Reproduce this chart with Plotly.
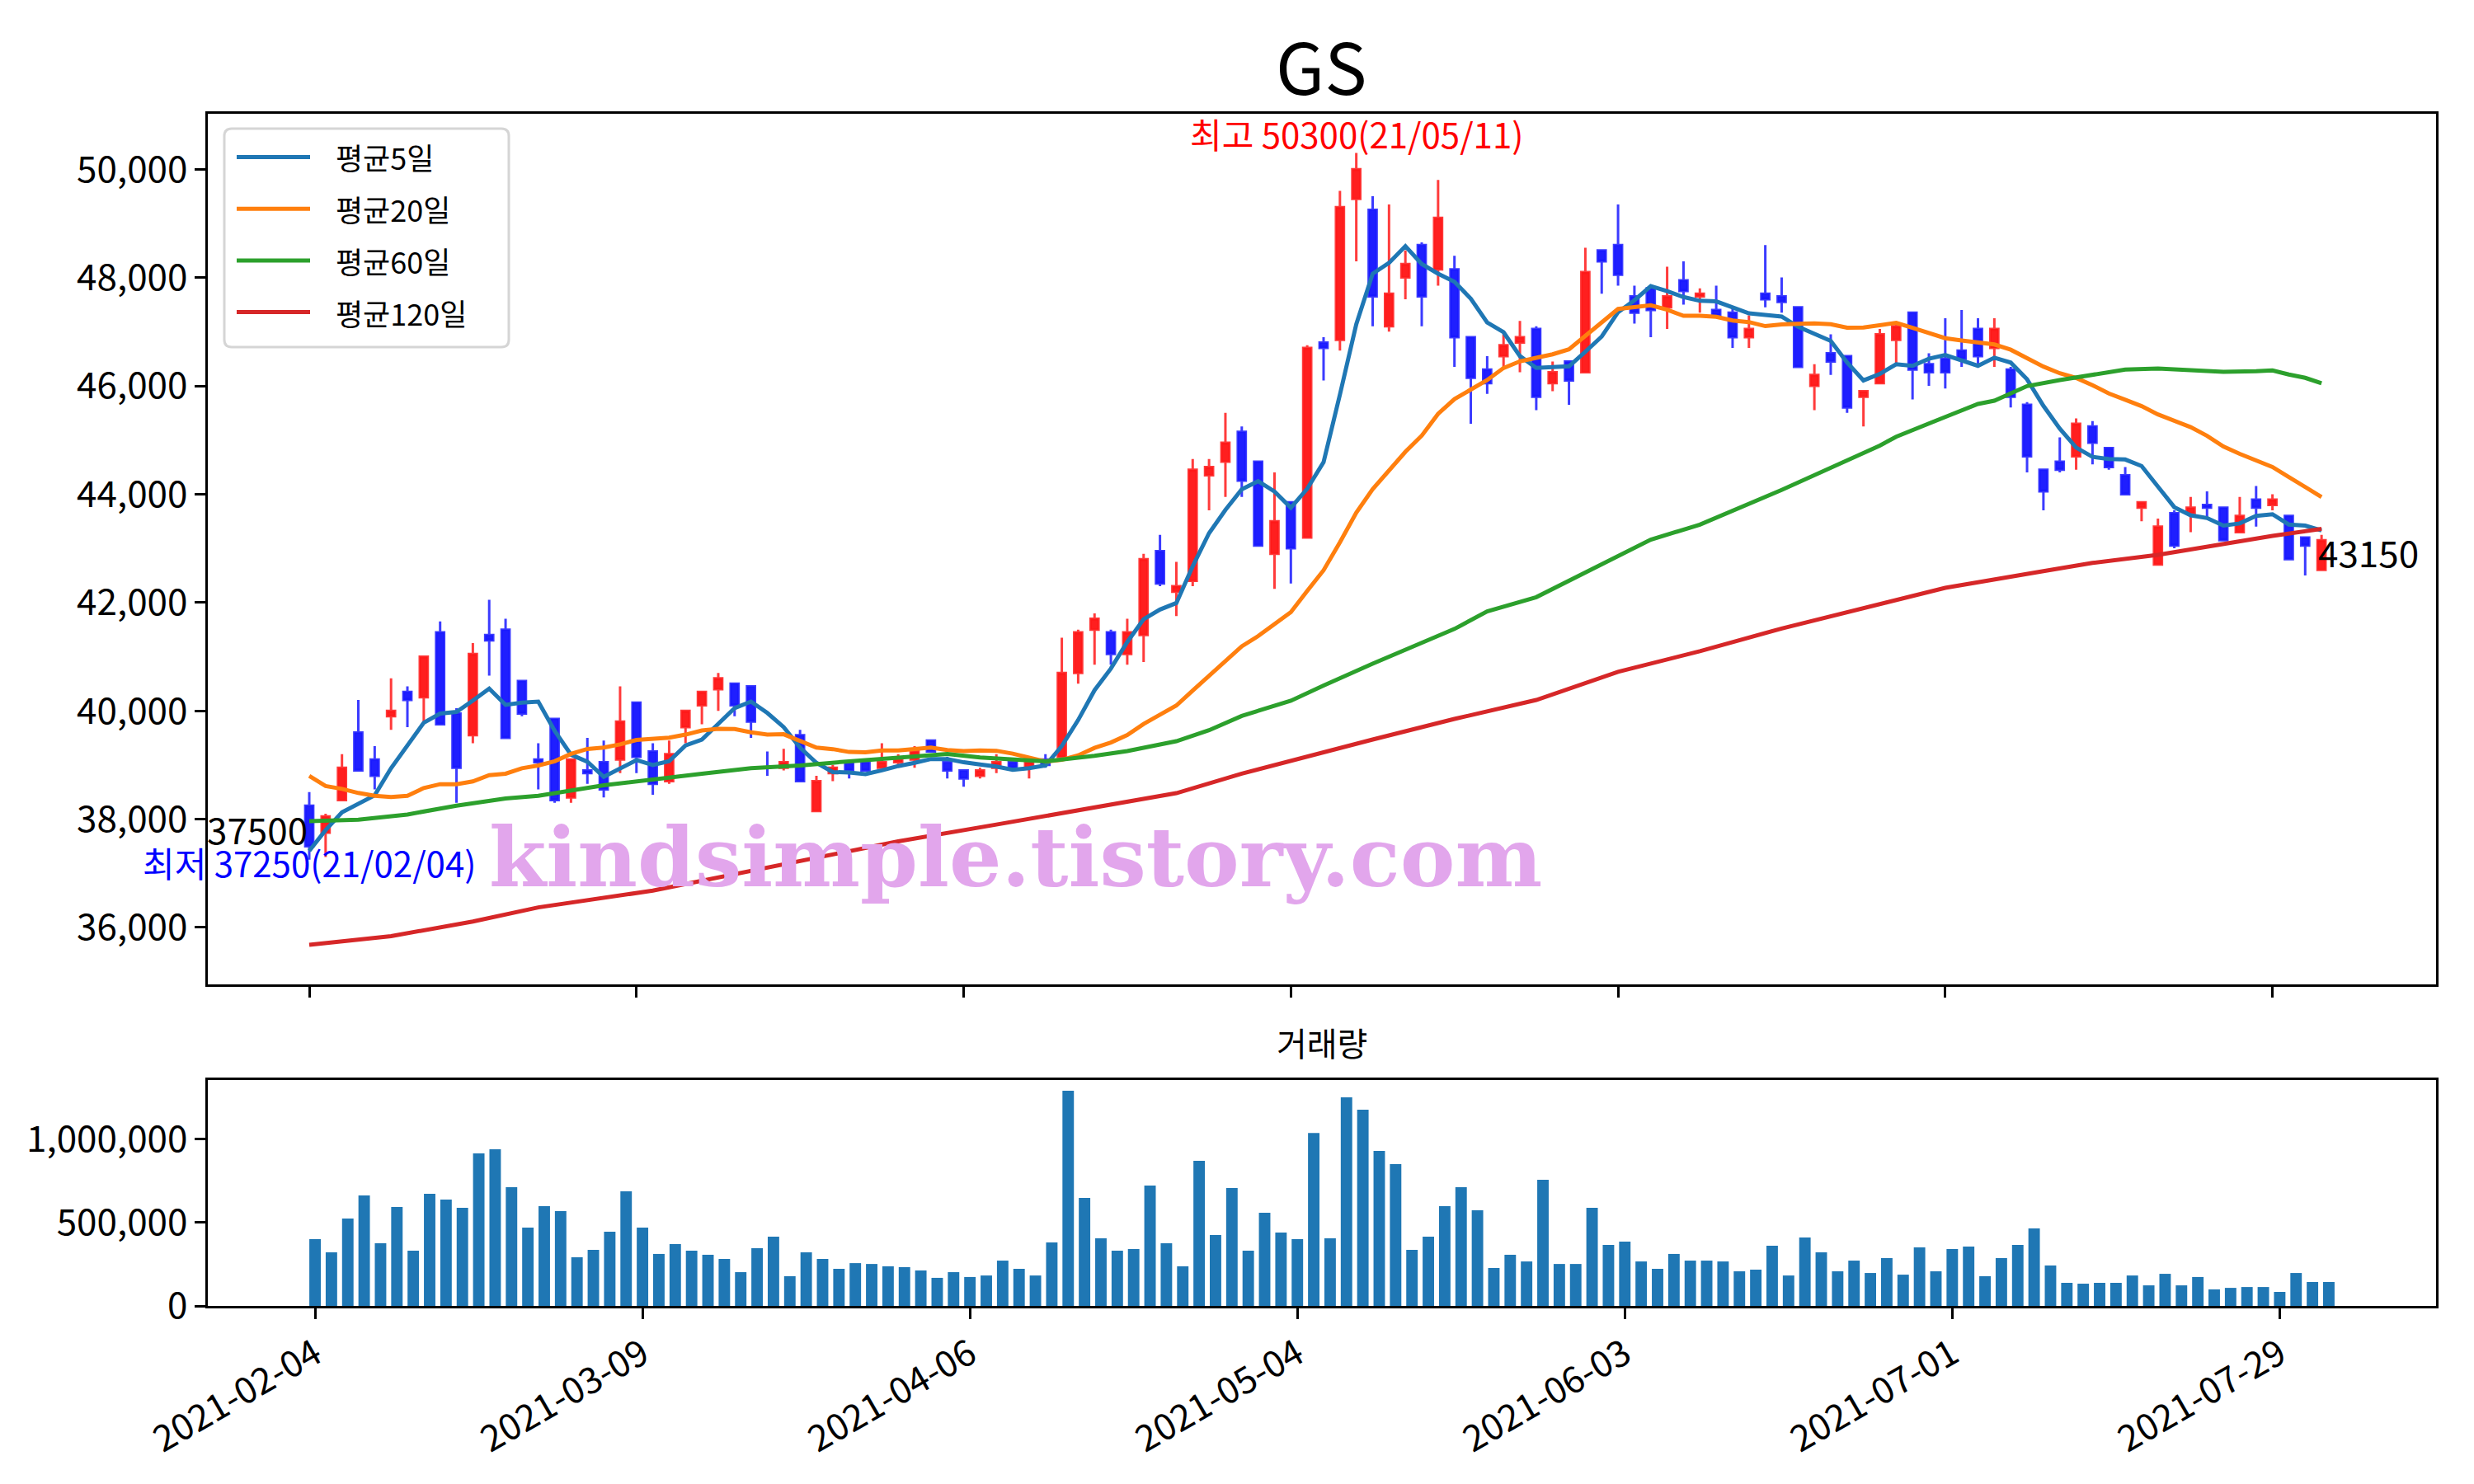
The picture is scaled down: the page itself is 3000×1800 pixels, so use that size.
import pandas as pd
import plotly.graph_objects as go

# ---------------- data ----------------
holidays = ["2021-02-11", "2021-02-12", "2021-03-01", "2021-05-05", "2021-05-19"]
dates = [d.strftime("%Y-%m-%d") for d in pd.bdate_range("2021-02-04", "2021-08-03")
         if d.strftime("%Y-%m-%d") not in holidays]

opens = [38250, 37750, 38350, 39600, 39100, 39900, 40350, 40250, 41450, 39950,
         39550, 41400, 41500, 40550, 39100, 39850, 38400, 38900, 39050, 39100,
         40150, 39250, 38700, 39700, 40100, 40400, 40500, 40450, 38950, 38950,
         39550, 38150, 38850, 39050, 39050, 38950, 39050, 39100, 39450, 39050,
         38900, 38800, 38950, 39050, 38950, 39100, 39150, 40700, 41500, 41450,
         41050, 41400, 42950, 42200, 42400, 44350, 44600, 45150, 44600, 42900,
         43850, 43200, 46800, 46850, 49450, 49250, 47100, 48000, 48600, 48150,
         48150, 46900, 46300, 46550, 46800, 47050, 46050, 46450, 46250, 48500,
         48600, 47650, 47800, 47450, 47950, 47650, 47400, 47350, 46900, 47700,
         47650, 47450, 46000, 46600, 46550, 45800, 46050, 46850, 47350, 46400,
         46500, 46650, 47050, 46700, 46300, 45650, 44450, 44600, 44700, 45250,
         44850, 44350, 43750, 42700, 43650, 43650, 43800, 43750, 43300, 43900,
         43800, 43600, 43200, 42600]
highs = [38500, 38100, 39200, 40200, 39350, 40600, 40450, 41000, 41650, 40050,
         41250, 42050, 41700, 40550, 39400, 39850, 39100, 39500, 39450, 40450,
         40150, 39400, 39450, 40000, 40350, 40700, 40500, 40450, 39250, 39300,
         39650, 38800, 39000, 39050, 39050, 39400, 39200, 39350, 39450, 39150,
         38900, 38950, 39200, 39050, 39150, 39200, 41350, 41500, 41800, 41500,
         41700, 42900, 43250, 42750, 44650, 44650, 45500, 45250, 44600, 44400,
         43850, 46750, 46900, 49600, 50300, 49500, 49350, 48500, 48650, 49800,
         48400, 46900, 46550, 46950, 47200, 47100, 46450, 46450, 48550, 48500,
         49350, 47850, 47800, 48200, 48300, 47800, 47850, 47450, 47300, 48600,
         48000, 47450, 46400, 46950, 46550, 45900, 47050, 47150, 47350, 46600,
         47250, 47400, 47250, 47250, 46350, 45700, 44450, 45050, 45400, 45350,
         44850, 44500, 43850, 43550, 43700, 43950, 44050, 43750, 43950, 44150,
         44000, 43600, 43200, 43250]
lows = [37250, 37300, 38350, 38900, 38550, 39650, 39700, 39800, 39750, 38300,
        39400, 40650, 39500, 39900, 38550, 38300, 38300, 38650, 38400, 38850,
        38850, 38450, 38650, 39400, 39750, 40000, 39900, 39500, 38800, 38900,
        38700, 38150, 38700, 38750, 38900, 38950, 39000, 38950, 39250, 38750,
        38600, 38750, 38850, 38950, 38750, 38950, 39150, 40500, 40850, 40850,
        40850, 40900, 42300, 41750, 42300, 43700, 43950, 43950, 43050, 42250,
        42350, 43200, 46100, 46650, 48300, 47100, 47000, 47600, 47100, 47850,
        46350, 45300, 45850, 46350, 46250, 45550, 45900, 45650, 46250, 47700,
        47850, 47150, 46900, 47050, 47500, 47350, 47250, 46700, 46700, 47450,
        47350, 46350, 45550, 46200, 45500, 45250, 46050, 46400, 45750, 46000,
        45950, 46350, 46400, 46350, 45600, 44400, 43700, 44400, 44450, 44550,
        44450, 44000, 43500, 42700, 43000, 43300, 43550, 43150, 43300, 43400,
        43700, 42800, 42500, 42600]
closes = [37500, 38050, 38950, 38900, 38800, 40000, 40200, 41000, 39750, 38950,
          41050, 41300, 39500, 39950, 39050, 38350, 39100, 38850, 38550, 39800,
          39150, 38650, 39200, 40000, 40350, 40600, 40100, 39800, 38950, 39050,
          38700, 38700, 38950, 38900, 38900, 39050, 39100, 39250, 39250, 38900,
          38750, 38900, 39050, 38950, 39050, 39000, 40700, 41450, 41700, 41050,
          41450, 42800, 42350, 42300, 44450, 44500, 44950, 44250, 43050, 43500,
          43000, 46700, 46700, 49300, 50000, 47650, 47700, 48250, 47650, 49100,
          46900, 46150, 46050, 46750, 46900, 45800, 46250, 46100, 48100, 48300,
          48050, 47350, 47400, 47650, 47750, 47700, 47300, 46900, 47050, 47600,
          47550, 46350, 46200, 46450, 45600, 45900, 46950, 47100, 46300, 46250,
          46250, 46500, 46550, 47050, 45800, 44700, 44050, 44450, 45300, 44950,
          44500, 44000, 43850, 43400, 43050, 43750, 43750, 43150, 43600, 43750,
          43900, 42800, 43050, 43150]
volumes = [399000, 320000, 523000, 661000, 375000, 592000, 330000, 671000, 636000, 587000,
           912000, 937000, 710000, 468000, 597000, 567000, 291000, 335000, 444000, 685000,
           468000, 311000, 370000, 330000, 306000, 281000, 202000, 345000, 414000, 178000,
           320000, 281000, 222000, 256000, 251000, 237000, 232000, 212000, 168000, 202000,
           173000, 182000, 271000, 222000, 182000, 380000, 1287000, 646000, 404000, 330000,
           340000, 720000, 375000, 237000, 868000, 424000, 705000, 330000, 557000, 439000,
           399000, 1035000, 404000, 1248000, 1174000, 927000, 848000, 335000, 414000, 597000,
           710000, 572000, 227000, 306000, 266000, 754000, 251000, 251000, 587000, 365000,
           385000, 266000, 222000, 311000, 271000, 271000, 266000, 207000, 217000, 360000,
           182000, 409000, 320000, 207000, 271000, 197000, 286000, 187000, 350000, 207000,
           340000, 355000, 178000, 286000, 365000, 464000, 242000, 138000, 133000, 138000,
           138000, 182000, 123000, 192000, 123000, 173000, 99000, 108000, 113000, 113000,
           84000, 197000, 143000, 143000]

# moving-average values before enough in-window history exists
ma5_head = [37415, 37797, 38127, 38280]
ma20_head = [38798, 38610, 38559, 38483, 38432, 38407, 38432, 38574, 38646, 38646,
             38697, 38813, 38839, 38940, 38991, 39068, 39205, 39296, 39322]
# long moving averages, sampled along the window (day index, value)
ma60_idx = [0, 3, 6, 9, 12, 14, 18, 21, 24, 27, 30, 33, 36, 39, 41, 43, 45, 48, 50, 53,
            55, 57, 60, 62, 65, 70, 72, 75, 77, 80, 82, 85, 90, 96, 97, 100, 102, 103, 105,
            107, 109, 111, 113, 115, 117, 119, 120, 121, 122, 123]
ma60_val = [37964, 37990, 38086, 38249, 38381, 38432, 38625, 38737, 38839, 38941, 38991,
            39068, 39144, 39205, 39140, 39103, 39068, 39169, 39256, 39439, 39642, 39906,
            40186, 40466, 40870, 41512, 41837, 42098, 42398, 42861, 43160, 43437, 44079,
            44897, 45060, 45426, 45665, 45726, 45995, 46107, 46209, 46300, 46320, 46285,
            46259, 46270, 46285, 46209, 46148, 46046]
ma120_idx = [0, 5, 10, 14, 21, 25, 30, 36, 42, 50, 53, 57, 62, 65, 70, 75, 80, 85, 90, 95,
             100, 106, 109, 113, 116, 120, 123]
ma120_val = [35680, 35840, 36110, 36370, 36680, 36920, 37220, 37590, 37900, 38330, 38480,
             38840, 39240, 39470, 39850, 40200, 40720, 41100, 41520, 41890, 42270, 42580,
             42730, 42880, 43030, 43230, 43360]

yticks_price = [36000, 38000, 40000, 42000, 44000, 46000, 48000, 50000]
yticks_vol = [0, 500000, 1000000]
tick_step = 20

# ---------------- derived ----------------
n = len(closes)
idx = list(range(n))


def rolling(vals, w, head):
    out = list(head)
    for i in range(len(head), len(vals)):
        out.append(sum(vals[i - w + 1:i + 1]) / w)
    return out


ma5 = rolling(closes, 5, ma5_head)
ma20 = rolling(closes, 20, ma20_head)

FONT = "Noto Sans CJK KR"
W, H = 3000, 1800
OFF = 8  # page body margin offset
AX_L, AX_R = 252, 2954
P_TOP, P_BOT = 137.5, 1194
V_TOP, V_BOT = 1310, 1584


def px(x):
    return (x - OFF) / W


def py(y):
    return 1 - (y - OFF) / H


fig = go.Figure()
fig.add_trace(go.Candlestick(
    x=idx, open=opens, high=highs, low=lows, close=closes,
    increasing=dict(line=dict(color="rgba(255,25,25,0.85)", width=3), fillcolor="rgba(255,0,0,0.88)"),
    decreasing=dict(line=dict(color="rgba(25,25,255,0.85)", width=3), fillcolor="rgba(0,0,255,0.88)"),
    whiskerwidth=0, showlegend=False, xaxis="x", yaxis="y", name="GS"))

ma_specs = [("평균5일", idx, ma5, "#1f77b4"),
            ("평균20일", idx, ma20, "#ff7f0e"),
            ("평균60일", ma60_idx, ma60_val, "#2ca02c"),
            ("평균120일", ma120_idx, ma120_val, "#d62728")]
for name, xs, ys, col in ma_specs:
    fig.add_trace(go.Scatter(x=xs, y=ys, mode="lines", name=name,
                             line=dict(color=col, width=5), showlegend=False,
                             xaxis="x", yaxis="y"))

fig.add_trace(go.Bar(x=idx, y=volumes, width=0.7, marker=dict(color="#1f77b4", line=dict(width=0)),
                     showlegend=False, xaxis="x2", yaxis="y2", name="거래량"))

tickvals = list(range(0, n, tick_step))
ticktext = [dates[i] for i in tickvals]

axis_common = dict(showline=True, mirror=True, linecolor="black", linewidth=2.5,
                   ticks="outside", ticklen=13, tickwidth=2.5, tickcolor="black",
                   showgrid=False, zeroline=False, automargin=False,
                   tickfont=dict(family=FONT, size=44, color="black"))

fig.update_layout(
    template="none",
    width=W, height=H, autosize=False,
    margin=dict(l=0, r=0, t=0, b=0, pad=0),
    paper_bgcolor="white", plot_bgcolor="white",
    font=dict(family=FONT, size=44, color="black"),
    showlegend=False,
    xaxis=dict(domain=[px(AX_L), px(AX_R)], range=[-6.2, 130.0], tickvals=tickvals,
               showticklabels=False, rangeslider=dict(visible=False), anchor="y",
               **axis_common),
    yaxis=dict(domain=[py(P_BOT), py(P_TOP)], range=[34949, 51031], tickvals=yticks_price,
               tickformat=",d", anchor="x", **axis_common),
    xaxis2=dict(domain=[px(AX_L), px(AX_R)], range=[-6.55, 129.55], tickvals=tickvals,
                ticktext=ticktext, tickangle=-30, anchor="y2", **axis_common),
    yaxis2=dict(domain=[py(V_BOT), py(V_TOP)], range=[0, max(volumes) * 1.05], tickvals=yticks_vol,
                tickformat=",d", anchor="x2", **axis_common),
)

# high / low / first / last labels computed from the data
hi_i = max(range(n), key=lambda i: highs[i])
lo_i = min(range(n), key=lambda i: lows[i])


def short(d):
    return d[2:].replace("-", "/")


annotations = [
    dict(text="GS", x=px((AX_L + AX_R) / 2), y=py(77), xref="paper", yref="paper",
         showarrow=False, font=dict(size=86, family=FONT), xanchor="center", yanchor="middle"),
    dict(text="거래량", x=px((AX_L + AX_R) / 2), y=py(1264), xref="paper", yref="paper",
         showarrow=False, font=dict(size=40, family=FONT), xanchor="center", yanchor="middle"),
    dict(text=f"최고 {highs[hi_i]}({short(dates[hi_i])})", x=hi_i, y=highs[hi_i], xref="x", yref="y",
         showarrow=False, font=dict(size=42, color="red", family=FONT), xanchor="center",
         yanchor="bottom", yshift=-8),
    dict(text=f"최저 {lows[lo_i]}({short(dates[lo_i])})", x=lo_i, y=lows[lo_i], xref="x", yref="y",
         showarrow=False, font=dict(size=42, color="blue", family=FONT), xanchor="center",
         yanchor="middle", yshift=-3),
    dict(text=f"{closes[0]}", x=0, y=closes[0], xref="x", yref="y", showarrow=False,
         font=dict(size=44, color="black", family=FONT), xanchor="right", yanchor="bottom",
         yshift=-13),
    dict(text=f"{closes[-1]}", x=n - 1, y=closes[-1], xref="x", yref="y", showarrow=False,
         font=dict(size=44, color="black", family=FONT), xanchor="left", yanchor="top",
         yshift=20, xshift=-6),
    dict(text="<b>kindsimple.tistory.com</b>", x=px(1231), y=py(1040), xref="paper", yref="paper",
         showarrow=False, font=dict(size=100, color="#e2a6ec", family="DejaVu Serif"),
         xanchor="center", yanchor="middle"),
]

# legend box (drawn manually to match the reference legend layout)
LG_L, LG_R, LG_T, LG_B = 272, 617, 156, 421
r = 9
path = (f"M {px(LG_L + r)},{py(LG_T)} L {px(LG_R - r)},{py(LG_T)} "
        f"Q {px(LG_R)},{py(LG_T)} {px(LG_R)},{py(LG_T + r)} "
        f"L {px(LG_R)},{py(LG_B - r)} Q {px(LG_R)},{py(LG_B)} {px(LG_R - r)},{py(LG_B)} "
        f"L {px(LG_L + r)},{py(LG_B)} Q {px(LG_L)},{py(LG_B)} {px(LG_L)},{py(LG_B - r)} "
        f"L {px(LG_L)},{py(LG_T + r)} Q {px(LG_L)},{py(LG_T)} {px(LG_L + r)},{py(LG_T)} Z")
shapes = [dict(type="path", path=path, xref="paper", yref="paper",
               line=dict(color="#d5d5d5", width=3), fillcolor="rgba(255,255,255,0.8)", layer="above")]
for k, (name, _, _, col) in enumerate(ma_specs):
    yk = 190.5 + 62.7 * k
    shapes.append(dict(type="line", x0=px(287), x1=px(376), y0=py(yk), y1=py(yk),
                       xref="paper", yref="paper", line=dict(color=col, width=5), layer="above"))
    annotations.append(dict(text=name, x=px(405), y=py(yk), xref="paper", yref="paper",
                            showarrow=False, xanchor="left", yanchor="middle",
                            font=dict(size=36, family=FONT, color="black")))

fig.update_layout(annotations=annotations, shapes=shapes)
fig.write_html("out.html")
